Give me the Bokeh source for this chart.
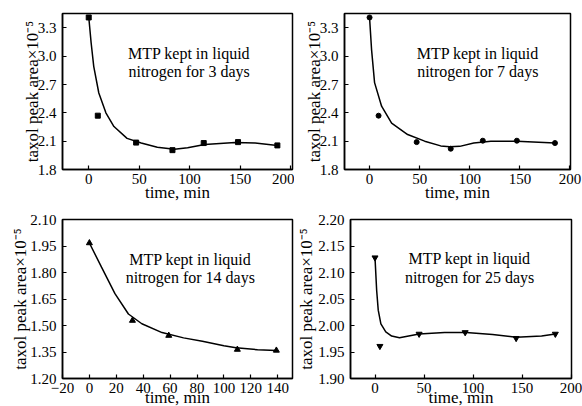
from bokeh.plotting import figure
from bokeh.models import Range1d, FixedTicker, ColumnDataSource
from bokeh.layouts import row, column
from bokeh.core.properties import value
from bokeh.embed import file_html
from bokeh.resources import INLINE

FONT = "Liberation Serif"

# ---------------- data ----------------
# Panel 1: 3 days (squares)
t1 = [0, 9, 47, 83, 114, 148, 187]
y1 = [3.41, 2.37, 2.085, 2.005, 2.08, 2.09, 2.055]
fit1_t = [0, 2.4, 5, 10, 17, 25, 38, 52, 68, 85, 98, 115, 145, 165, 187]
fit1_y = [3.417, 3.14, 2.89, 2.61, 2.40, 2.255, 2.13, 2.08, 2.035, 2.015, 2.03, 2.065, 2.085, 2.08, 2.055]

# Panel 2: 7 days (circles)
t2 = [0, 9, 47, 81, 113, 147, 185]
y2 = [3.41, 2.37, 2.09, 2.02, 2.105, 2.105, 2.08]
fit2_t = [0, 2, 5, 12, 22, 38, 55, 71, 80, 90, 104, 121, 147, 185]
fit2_y = [3.41, 3.07, 2.72, 2.47, 2.29, 2.17, 2.10, 2.05, 2.04, 2.045, 2.08, 2.10, 2.10, 2.08]

# Panel 3: 14 days (triangles)
t3 = [0, 32, 59, 110, 139]
y3 = [1.967, 1.528, 1.443, 1.364, 1.359]
fit3_t = [0, 9, 19, 29, 39, 54, 70, 84, 100, 109, 125, 139]
fit3_y = [1.967, 1.83, 1.68, 1.565, 1.51, 1.46, 1.43, 1.411, 1.385, 1.374, 1.363, 1.359]

# Panel 4: 25 days (inverted triangles)
t4 = [0, 5, 45, 92, 144, 184]
y4 = [2.128, 1.961, 1.984, 1.987, 1.976, 1.984]
fit4_t = [0, 1.7, 3.3, 6, 11, 17, 25, 45, 71, 93, 120, 144, 170, 184]
fit4_y = [2.128, 2.066, 2.029, 2.003, 1.988, 1.980, 1.977, 1.984, 1.987, 1.987, 1.983, 1.978, 1.980, 1.984]

# ticks
xt_a = [0, 50, 100, 150, 200]
xt_a_lbl = ["0", "50", "100", "150", "200"]
yt_a = [1.8, 2.1, 2.4, 2.7, 3.0, 3.3]
yt_a_lbl = ["1.8", "2.1", "2.4", "2.7", "3.0", "3.3"]
xt_c = [-20, 0, 20, 40, 60, 80, 100, 120, 140]
xt_c_lbl = ["\u221220", "0", "20", "40", "60", "80", "100", "120", "140"]
yt_c = [1.20, 1.35, 1.50, 1.65, 1.80, 1.95, 2.10]
yt_c_lbl = ["1.20", "1.35", "1.50", "1.65", "1.80", "1.95", "2.10"]
yt_d = [1.90, 1.95, 2.00, 2.05, 2.10, 2.15, 2.20]
yt_d_lbl = ["1.90", "1.95", "2.00", "2.05", "2.10", "2.15", "2.20"]

notes = [
    ["MTP kept in liquid", "nitrogen for 3 days"],
    ["MTP kept in liquid", "nitrogen for 7 days"],
    ["MTP kept in liquid", "nitrogen for 14 days"],
    ["MTP kept in liquid", "nitrogen for 25 days"],
]
note_x = [99.5, 108, 75, 96.5]
note_y = [[3.027, 2.836], [3.027, 2.836], [1.874, 1.773], [2.126, 2.091]]

XLABEL = "time, min"
YLABEL = "taxol peak area\u00d710\u207b\u2075"


def make(fw, fh, xr, yr, bl, br, bt, bb, xt, xl, yt, yl, xls, yls):
    p = figure(frame_width=fw, frame_height=fh,
               x_range=Range1d(*xr), y_range=Range1d(*yr),
               output_backend="svg", toolbar_location=None,
               min_border_left=bl, min_border_right=br,
               min_border_top=bt, min_border_bottom=bb,
               background_fill_color="white", border_fill_color="white")
    p.grid.visible = False
    p.outline_line_color = "black"
    p.outline_line_width = 1.5
    for ax, ticks, labels in ((p.xaxis[0], xt, xl), (p.yaxis[0], yt, yl)):
        ax.ticker = FixedTicker(ticks=ticks)
        ax.major_label_overrides = {t: l for t, l in zip(ticks, labels)}
        ax.major_tick_in = 4
        ax.major_tick_out = 0
        ax.minor_tick_in = 0
        ax.minor_tick_out = 0
        ax.axis_line_width = 1.5
        ax.major_tick_line_width = 1.2
        ax.major_label_text_font = FONT
        ax.major_label_text_font_size = "15px"
        ax.major_label_text_color = "black"
        ax.axis_label_text_font = FONT
        ax.axis_label_text_font_size = "17px"
        ax.axis_label_text_font_style = "normal"
        ax.axis_label_text_color = "black"
    p.xaxis.axis_label = XLABEL
    p.yaxis.axis_label = YLABEL
    p.xaxis.major_label_standoff = 4
    p.xaxis.axis_label_standoff = xls
    p.yaxis.major_label_standoff = 6
    p.yaxis.axis_label_standoff = yls
    return p


p1 = make(230, 156, (-26, 202), (1.8, 3.452), 62, 2, 13, 33,
          xt_a, xt_a_lbl, yt_a, yt_a_lbl, -4, -7)
p2 = make(226, 156, (-25, 200.5), (1.8, 3.452), 50, 12, 13, 33,
          xt_a, xt_a_lbl, yt_a, yt_a_lbl, -4, -7)
p3 = make(230, 159, (-20, 151), (1.20, 2.10), 62, 2, 15, 29,
          xt_c, xt_c_lbl, yt_c, yt_c_lbl, -8, -3)
p4 = make(221, 159, (-25, 200.5), (1.90, 2.20), 49, 14, 15, 29,
          xt_a, xt_a_lbl, yt_d, yt_d_lbl, -8, -1)

p1.line(fit1_t, fit1_y, line_color="black", line_width=1.5)
p1.scatter(t1, y1, marker="square", size=5, color="black")
p2.line(fit2_t, fit2_y, line_color="black", line_width=1.5)
p2.scatter(t2, y2, marker="circle", size=5, color="black")
p3.line(fit3_t, fit3_y, line_color="black", line_width=1.5)
p3.scatter(t3, y3, marker="triangle", size=6, color="black")
p4.line(fit4_t, fit4_y, line_color="black", line_width=1.5)
p4.scatter(t4, y4, marker="inverted_triangle", size=6, color="black")

for p, lines, nx, ny in zip((p1, p2, p3, p4), notes, note_x, note_y):
    src = ColumnDataSource(dict(x=[nx, nx], y=ny, text=lines))
    p.text(x="x", y="y", text="text", source=src, text_font=value(FONT),
           text_font_size="16px", text_align="center", text_baseline="middle",
           text_color="black")

layout = column(row(p1, p2), row(p3, p4))
open("out.html", "w").write(file_html(layout, INLINE))
